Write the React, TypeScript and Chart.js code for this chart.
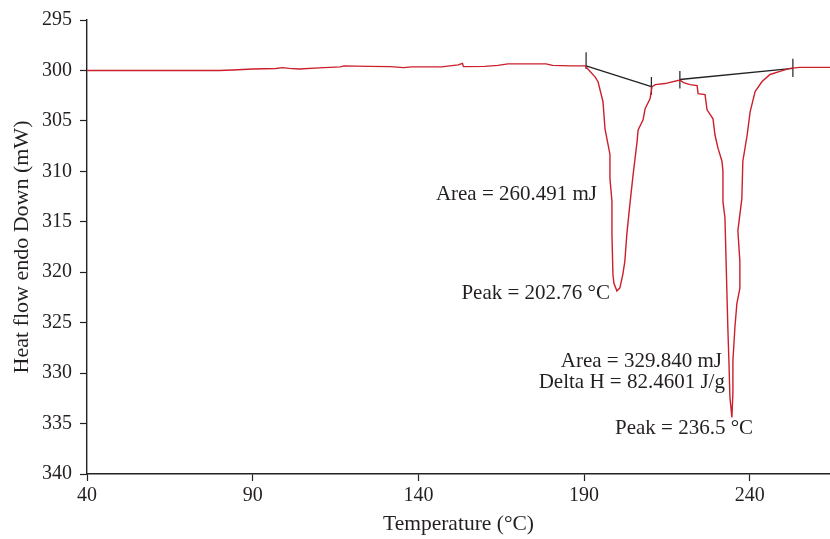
import React, { useEffect, useRef } from "react";
import Chart from "chart.js/auto";

// ---- data ----
const xTickValues = [40, 90, 140, 190, 240];
const yTickValues = [295, 300, 305, 310, 315, 320, 325, 330, 335, 340];

const temperature = [
  40, 60, 80, 84, 90, 97, 99, 101, 104, 110, 116.5, 117.5, 125, 131.5, 135.5, 138, 147, 152, 153.3, 153.6,
  160, 164, 167, 178.5, 180.5, 186, 190.3, 193.3, 194.2, 195.7, 196.3, 197.8, 197.8, 198.4, 198.4, 198.7,
  199.0, 199.9, 200.8, 201.7, 202.3, 202.9, 203.9, 204.8, 206.0, 206.3, 207.8, 208.4, 209.9, 210.5, 211.5,
  214.4, 218.9, 220.0, 222.0, 224.1, 224.4, 226.5, 227.1, 228.9, 229.5, 230.4, 231.6, 231.9, 231.9, 232.5,
  233.1, 233.4, 233.7, 234.0, 234.6, 234.9, 234.9, 235.5, 236.1, 237.0, 237.0, 236.4, 237.6, 237.9, 239.2,
  240.1, 241.6, 243.7, 246.1, 249.1, 252.1, 255.1, 264.2,
];
const heatFlow = [
  300.0, 300.0, 300.0, 299.95, 299.85, 299.8, 299.72, 299.8, 299.85, 299.75, 299.65, 299.55, 299.6, 299.62,
  299.72, 299.65, 299.65, 299.45, 299.3, 299.62, 299.6, 299.5, 299.35, 299.35, 299.5, 299.55, 299.55, 300.63,
  301.12, 303.1, 305.76, 308.33, 310.7, 312.97, 316.2, 320.2, 321.1, 321.85, 321.55, 320.2, 318.9, 316.2,
  313.0, 310.3, 307.0, 305.9, 304.9, 303.8, 302.8, 301.6, 301.4, 301.3, 300.95, 301.2, 301.4, 301.5, 302.3,
  302.4, 303.9, 304.8, 306.4, 307.7, 309.0, 310.0, 313.0, 314.6, 322.1, 325.8, 328.8, 332.4, 334.4, 332.0,
  328.8, 325.5, 323.1, 321.6, 318.9, 315.9, 312.7, 309.0, 306.4, 304.1, 302.1, 301.1, 300.4, 300.1, 299.8,
  299.7, 299.7,
];

// integration baselines (start -> end)
const baselineX = [
  [190.6, 210.3],
  [218.9, 253.0],
];
const baselineY = [
  [299.55, 301.6],
  [300.9, 299.8],
];
// limit markers: x position, top and bottom y
const markerX = [190.6, 210.3, 218.9, 253.0];
const markerTop = [298.2, 300.65, 300.05, 298.85];
const markerBottom = [299.85, 302.4, 301.8, 300.65];

// annotations (right edge x, centre y)
const labelText = [
  "Area = 260.491 mJ",
  "Peak = 202.76 °C",
  "Area = 329.840 mJ",
  "Delta H = 82.4601 J/g",
  "Peak = 236.5 °C",
];
const labelX = [193.9, 197.8, 231.6, 232.5, 241.0];
const labelY = [312.3, 322.15, 328.86, 330.93, 335.47];

const FONT = "'Liberation Serif', 'DejaVu Serif', serif";
const TEXT = "#231f20";
const RED = "#cc1f2c";

export default function App() {
  const ref = useRef<HTMLCanvasElement | null>(null);

  useEffect(() => {
    if (!ref.current) return;

    const annotationPlugin = {
      id: "dscLabels",
      afterDatasetsDraw(chart: any) {
        const { ctx, scales } = chart;
        ctx.save();
        ctx.font = `21px ${FONT}`;
        ctx.fillStyle = TEXT;
        ctx.textAlign = "right";
        ctx.textBaseline = "middle";
        labelText.forEach((t, i) => {
          ctx.fillText(t, scales.x.getPixelForValue(labelX[i]), scales.y.getPixelForValue(labelY[i]));
        });
        ctx.restore();
      },
    };

    const datasets: any[] = [
      {
        data: temperature.map((x, i) => ({ x, y: heatFlow[i] })),
        borderColor: RED,
        borderWidth: 1.4,
        pointRadius: 0,
        tension: 0,
      },
    ];
    baselineX.forEach((xs, i) => {
      datasets.push({
        data: xs.map((x, j) => ({ x, y: baselineY[i][j] })),
        borderColor: "#222",
        borderWidth: 1.4,
        pointRadius: 0,
      });
    });
    markerX.forEach((x, i) => {
      datasets.push({
        data: [
          { x, y: markerTop[i] },
          { x, y: markerBottom[i] },
        ],
        borderColor: "#222",
        borderWidth: 1.2,
        pointRadius: 0,
      });
    });

    const chart = new Chart(ref.current, {
      type: "line",
      data: { datasets },
      plugins: [annotationPlugin],
      options: {
        responsive: false,
        animation: false,
        devicePixelRatio: 1,
        layout: { padding: { top: 18, left: 0, right: 0, bottom: 0 } },
        plugins: { legend: { display: false }, tooltip: { enabled: false } },
        scales: {
          x: {
            type: "linear",
            min: 40,
            max: 264.2,
            afterBuildTicks: (s: any) => {
              s.ticks = xTickValues.map((v) => ({ value: v }));
            },
            afterFit: (s: any) => {
              s.height = 65;
            },
            grid: { drawOnChartArea: false, drawTicks: true, tickLength: 7, color: "#222", tickWidth: 1.2 },
            border: { color: "#222", width: 1.4 },
            ticks: { color: TEXT, font: { family: FONT, size: 20 }, padding: 3, maxRotation: 0 },
            title: {
              display: true,
              text: "Temperature (°C)",
              color: TEXT,
              font: { family: FONT, size: 21.5 },
              padding: { top: 0, bottom: 2 },
            },
          },
          y: {
            type: "linear",
            reverse: true,
            min: 295,
            max: 340,
            afterBuildTicks: (s: any) => {
              s.ticks = yTickValues.map((v) => ({ value: v }));
            },
            afterFit: (s: any) => {
              s.width = 87;
            },
            grid: { drawOnChartArea: false, drawTicks: true, tickLength: 7, color: "#222", tickWidth: 1.2 },
            border: { color: "#222", width: 1.4 },
            ticks: { color: TEXT, font: { family: FONT, size: 20 }, padding: 8 },
            title: {
              display: true,
              text: "Heat flow endo Down (mW)",
              color: TEXT,
              font: { family: FONT, size: 22 },
              padding: { top: 9, bottom: 0 },
            },
          },
        },
      },
    });
    return () => chart.destroy();
  }, []);

  return (
    <div style={{ position: "absolute", left: 0, top: 0, width: 830, height: 539, background: "#fff" }}>
      <canvas ref={ref} width={830} height={539} style={{ display: "block" }} />
    </div>
  );
}
